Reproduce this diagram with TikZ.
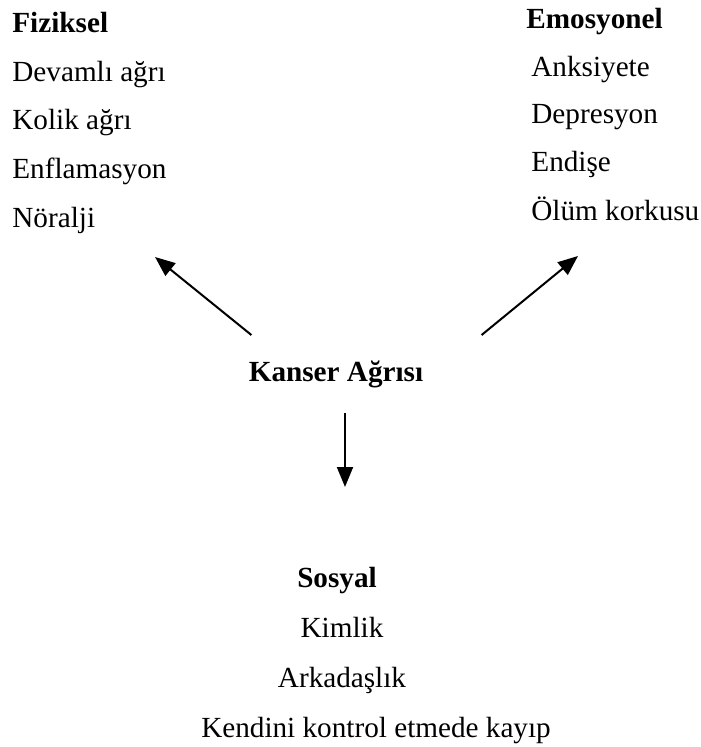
\documentclass[tikz,border=0pt]{standalone}
\usepackage{fontspec}
\setmainfont{Liberation Serif}
\usetikzlibrary{arrows.meta}

\begin{document}
\begin{tikzpicture}[x=0.5pt,y=-0.5pt,
      item/.style={inner sep=0pt,font=\fontsize{14.6}{17}\selectfont},
      head/.style={item,font=\fontsize{14.6}{17}\selectfont\bfseries},
      arr/.style={-{Triangle[length=10pt,width=8pt]},line width=1pt}]
      \useasboundingbox (0,0) rectangle (700,747);
      % Fiziksel
      \node[head,anchor=base west] (fiz) at (12,33) {Fiziksel};
      \node[item,anchor=base west] (fiz1) at (12,82) {Devaml\i{} a\u{g}r\i};
      \node[item,anchor=base west] (fiz2) at (12,130) {Kolik a\u{g}r\i};
      \node[item,anchor=base west] (fiz3) at (12,179) {Enflamasyon};
      \node[item,anchor=base west] (fiz4) at (12,228) {Nöralji};
      % Emosyonel
      \node[head,anchor=base west] (emo) at (526,29) {Emosyonel};
      \node[item,anchor=base west] (emo1) at (531,77) {Anksiyete};
      \node[item,anchor=base west] (emo2) at (531,124) {Depresyon};
      \node[item,anchor=base west] (emo3) at (531,172) {Endişe};
      \node[item,anchor=base west] (emo4) at (531,221) {Ölüm korkusu};
      % Kanser
      \node[head,anchor=base] (kanser) at (336,382) {Kanser Ağrısı};
      % Sosyal
      \node[head,anchor=base] (sos) at (337,587) {Sosyal};
      \node[item,anchor=base] (sos1) at (342,637) {Kimlik};
      \node[item,anchor=base] (sos2) at (342,687) {Arkadaşlık};
      \node[item,anchor=base] (sos3) at (376,737) {Kendini kontrol etmede kayıp};
      % arrows
      \coordinate (fizTip) at (155,257);
      \coordinate (emoTip) at (578,256);
      \coordinate (sosTip) at (345,487);
      \draw[arr] (kanser.north west) ++(3,-26) -- (fizTip);
      \draw[arr] (kanser.north east) ++(58,-26) -- (emoTip);
      \draw[arr] (kanser.south) ++(9,24) -- (sosTip);
    \end{tikzpicture}
\end{document}
